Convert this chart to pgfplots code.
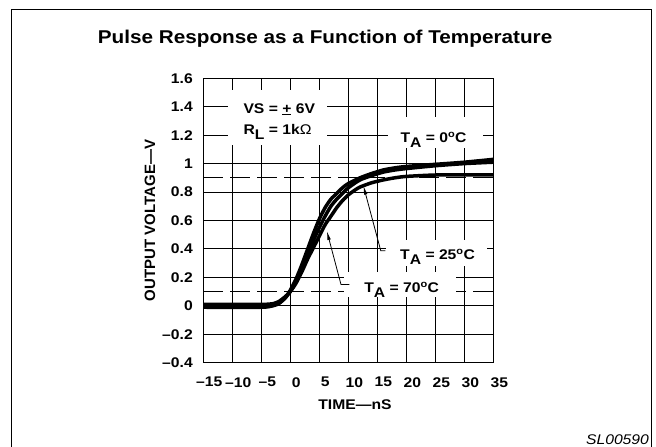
\documentclass[border=0pt]{standalone}
\usepackage{fontspec}
\setmainfont{Liberation Sans}[FakeStretch=1.12]
\newfontfamily\plainsans{Liberation Sans}
\usepackage{pgfplots}
\pgfplotsset{compat=1.18}
\usetikzlibrary{arrows.meta}
\newcommand{\lab}{\fontsize{14}{16}\selectfont\bfseries}
\newcommand{\TA}{T\raisebox{-5pt}{A}}
\begin{document}
\begin{tikzpicture}
\useasboundingbox (0pt,0pt) rectangle (656pt,447pt);
\draw[line width=1pt] (11pt,-2pt) -- (11pt,437pt) -- (651pt,437pt) -- (651pt,-2pt);
\node[font=\fontsize{14}{16}\selectfont\itshape] at (617.5pt,7pt) {SL00590};
\begin{axis}[
  at={(203.3pt,84.3pt)}, anchor=south west,
  scale only axis, width=290pt, height=284.4pt,
  xmin=-15, xmax=35, ymin=-0.4, ymax=1.6,
  xtick={-15,-10,-5,0,5,10,15,20,25,30,35},
  xticklabels={–15,–10,–5,0,5,10,15,20,25,30,35},
  ytick={-0.4,-0.2,0,0.2,0.4,0.6,0.8,1,1.2,1.4,1.6},
  yticklabels={–0.4,–0.2,0,0.2,0.4,0.6,0.8,1,1.2,1.4,1.6},
  tick style={draw=none},
  grid=major,
  major grid style={black, line width=0.9pt},
  axis line style={black, line width=1pt},
  xticklabel style={font=\lab, xshift=6pt, yshift=-11pt},
  yticklabel style={font=\lab, xshift=-7pt},
  title={Pulse Response as a Function of Temperature},
  title style={font=\fontsize{18.5}{20}\selectfont\bfseries, at={(0.42,1.119)}, anchor=center},
  xlabel={TIME—nS},
  xlabel style={font=\lab, at={(0.523,-0.149)}, anchor=center},
  ylabel={\plainsans\bfseries OUTPUT VOLTAGE—V},
  ylabel style={font=\fontsize{15}{17}\selectfont, at={(-0.184,0.5)}, anchor=center, rotate=0},
  clip=false,
]
% dashed 10% / 90% lines
\addplot[black, line width=0.9pt, dash pattern=on 20pt off 7pt] coordinates {(-15,0.9) (35,0.9)};
\addplot[black, line width=0.9pt, dash pattern=on 20pt off 7pt] coordinates {(-15,0.1) (35,0.1)};
% white boxes behind labels
\fill[white] (axis cs:-10.7,1.13) rectangle (axis cs:6.4,1.52);
\fill[white] (axis cs:16.8,1.11) rectangle (axis cs:33.2,1.33);
\fill[white] (axis cs:16.5,0.28) rectangle (axis cs:34,0.465);
\fill[white] (axis cs:9.3,0.06) rectangle (axis cs:28.6,0.24);
% T_A = 70 C
\addplot[black, line width=3.5pt, smooth, tension=0.4] coordinates {
(-15,0.01) (-5,0.01) (-3,0.015) (-2,0.03) (-1,0.06) (0,0.1) (1,0.16) (2,0.24) (3,0.33) (4,0.41) (5,0.49) (6,0.57) (7,0.63) (8,0.69) (9,0.74) (10,0.78) (11,0.81) (12,0.835) (14,0.865) (16,0.885) (18,0.9) (20,0.91) (25,0.92) (30,0.92) (35,0.92)};
% T_A = 25 C
\addplot[black, line width=3.5pt, smooth, tension=0.4] coordinates {
(-15,-0.01) (-5,-0.01) (-3,0.0) (-2,0.015) (-1,0.05) (0,0.1) (1,0.17) (2,0.26) (3,0.36) (4,0.46) (5,0.55) (6,0.63) (7,0.7) (8,0.75) (9,0.79) (10,0.83) (12,0.885) (14,0.915) (16,0.94) (18,0.955) (20,0.965) (25,0.985) (30,1.0) (35,1.01)};
% T_A = 0 C
\addplot[black, line width=3.5pt, smooth, tension=0.4] coordinates {
(-15,0) (-5,0) (-3,0.005) (-2,0.02) (-1,0.05) (0,0.11) (1,0.19) (2,0.29) (3,0.40) (4,0.51) (5,0.61) (6,0.69) (7,0.75) (8,0.79) (9,0.83) (10,0.86) (12,0.9) (14,0.93) (16,0.955) (18,0.97) (20,0.98) (25,0.995) (30,1.01) (35,1.03)};
% leaders
\draw[line width=0.8pt, -{Latex[length=9pt,width=3.5pt]}] (axis cs:16.4,0.387) -- (axis cs:15.6,0.387) -- (axis cs:12.6,0.845);
\draw[line width=0.8pt, -{Latex[length=9pt,width=3.5pt]}] (axis cs:10.2,0.15) -- (axis cs:8.74,0.15) -- (axis cs:6.3,0.526);
% labels
\node[font=\lab, anchor=base] at (axis cs:-1.9,1.354) {VS = \underline{+} 6V};
\node[font=\lab, anchor=base] at (axis cs:-2.2,1.203) {R\raisebox{-5pt}{L} = 1k{\mdseries Ω}};
\node[font=\lab, anchor=base] at (axis cs:24.7,1.146) {\TA{} = 0\textsuperscript{o}C};
\node[font=\lab, anchor=base] at (axis cs:25.4,0.324) {\TA{} = 25\textsuperscript{o}C};
\node[font=\lab, anchor=base] at (axis cs:19.2,0.092) {\TA{} = 70\textsuperscript{o}C};
\end{axis}
\end{tikzpicture}
\end{document}
